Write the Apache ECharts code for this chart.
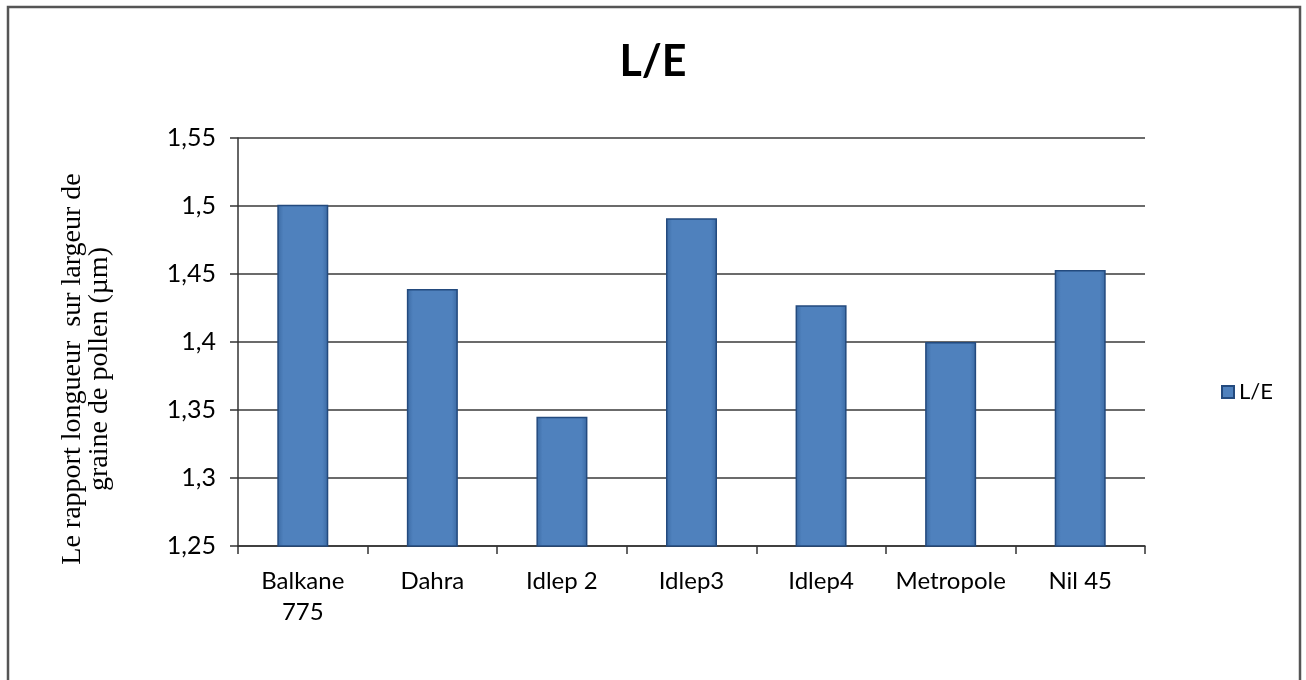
<!DOCTYPE html>
<html>
<head>
<meta charset="utf-8">
<script src="https://cdn.jsdelivr.net/npm/echarts@6/dist/echarts.min.js"></script>
<style>
  html, body { margin: 0; padding: 0; background: #fff; }
  #chart { width: 1306px; height: 680px; }
</style>
</head>
<body>
<div id="chart"></div>
<script>
// Pollen grain length/width ratio per variety
const categories = ['Balkane\n775', 'Dahra', 'Idlep 2', 'Idlep3', 'Idlep4', 'Metropole', 'Nil 45'];
const ratioLE = [1.501, 1.439, 1.345, 1.491, 1.427, 1.400, 1.453];
const seriesName = 'L/E';
const yAxisTitle = 'Le rapport longueur  sur largeur de\ngraine de pollen (µm)';

const chart = echarts.init(document.getElementById('chart'));

const sans = 'Lato, "Open Sans", sans-serif';

chart.setOption({
  backgroundColor: '#ffffff',
  animation: false,
  title: {
    text: 'L/E',
    left: 'center',
    top: 36,
    textStyle: { fontFamily: sans, fontSize: 43, fontWeight: 'bold', color: '#000' }
  },
  legend: {
    data: [seriesName],
    left: 1216,
    top: 376,
    orient: 'vertical',
    itemWidth: 12,
    itemHeight: 12,
    itemGap: 6,
    icon: 'rect',
    textStyle: { fontFamily: sans, fontSize: 22, color: '#000' }
  },
  grid: { left: 238, right: 161, top: 138, bottom: 134 },
  xAxis: {
    type: 'category',
    data: categories,
    axisLine: { lineStyle: { color: '#333', width: 1.5 } },
    axisTick: { show: true, length: 8, lineStyle: { color: '#333', width: 1.5 } },
    axisLabel: {
      interval: 0,
      margin: 20,
      fontFamily: sans,
      fontSize: 24,
      lineHeight: 31,
      color: '#000'
    }
  },
  yAxis: {
    type: 'value',
    min: 1.25,
    max: 1.55,
    interval: 0.05,
    axisLine: { show: true, lineStyle: { color: '#333', width: 1.5 } },
    axisTick: { show: true, length: 8, lineStyle: { color: '#333', width: 1.5 } },
    splitLine: { lineStyle: { color: '#3a3a3a', width: 1.5 } },
    axisLabel: {
      margin: 22,
      fontFamily: sans,
      fontSize: 25,
      color: '#000',
      formatter: v => String(Number(v.toFixed(2))).replace('.', ',')
    }
  },
  series: [{
    name: seriesName,
    type: 'bar',
    data: ratioLE,
    barWidth: 51,
    itemStyle: {
      color: {
        type: 'linear', x: 0, y: 0, x2: 1, y2: 0,
        colorStops: [
          { offset: 0, color: '#3b6aa3' },
          { offset: 0.12, color: '#4f81bd' },
          { offset: 0.88, color: '#4f81bd' },
          { offset: 1, color: '#3b6aa3' }
        ]
      },
      borderColor: '#234a7e',
      borderWidth: 1.5
    }
  }],
  graphic: [
    {
      type: 'rect',
      shape: { x: 8, y: 7, width: 1292, height: 700 },
      style: { fill: 'none', stroke: '#555', lineWidth: 2.5 },
      silent: true
    },
    {
      type: 'text',
      x: 86,
      y: 369,
      rotation: Math.PI / 2,
      style: {
        text: yAxisTitle,
        fontFamily: '"Liberation Serif", "DejaVu Serif", serif',
        fontSize: 28,
        lineHeight: 27,
        fill: '#000',
        align: 'center',
        verticalAlign: 'middle'
      },
      silent: true
    }
  ]
});
</script>
</body>
</html>
